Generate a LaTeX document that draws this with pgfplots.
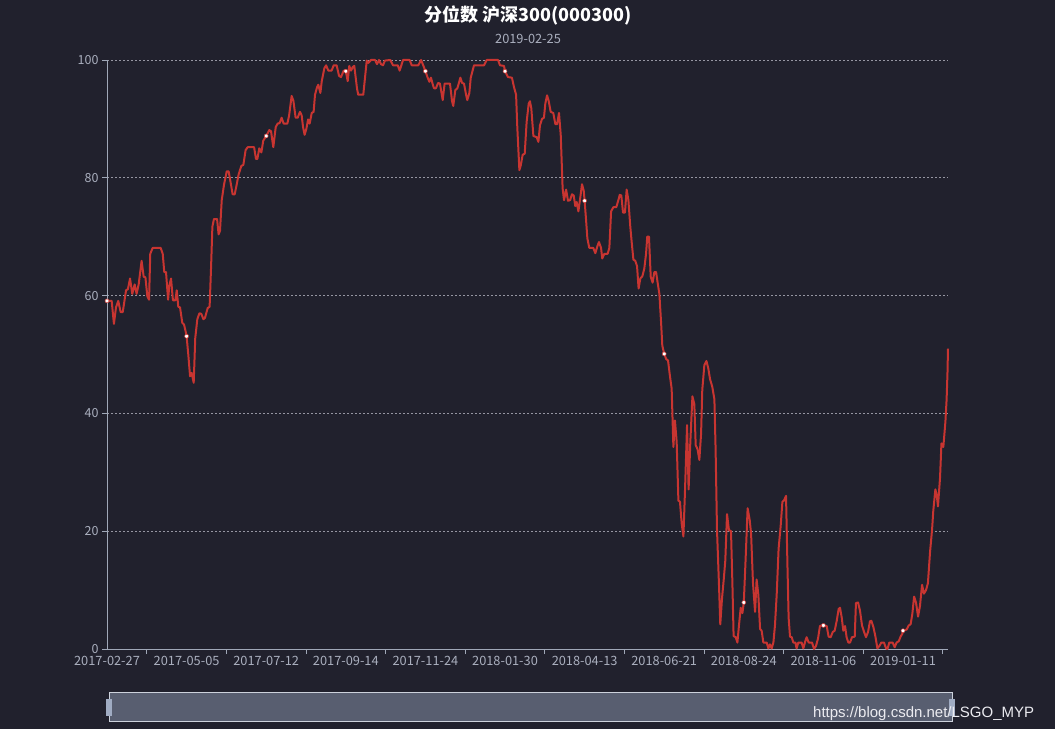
\documentclass[border=0pt]{standalone}
\usepackage{fontspec}
\setmainfont{Noto Sans CJK SC}
\newfontfamily\wm{Liberation Sans}
\usepackage{pgfplots}
\pgfplotsset{compat=1.18}
\definecolor{bg}{RGB}{33,33,45}
\definecolor{linered}{RGB}{200,53,49}
\definecolor{axcol}{RGB}{160,168,184}
\definecolor{labcol}{RGB}{170,175,190}
\definecolor{gridcol}{RGB}{150,150,162}
\definecolor{slider}{RGB}{88,94,112}
\definecolor{sliderb}{RGB}{205,210,220}
\definecolor{handle}{RGB}{160,172,195}
\begin{document}
\begin{tikzpicture}[x=1pt,y=1pt]
\fill[bg] (0,0) rectangle (1055,729);
\node[text=white, font=\fontsize{18}{21}\selectfont\bfseries] at (528,714) {分位数 沪深300(000300)};
\node[text=labcol, font=\fontsize{12.8}{15}\selectfont] at (528,690) {2019-02-25};
\begin{axis}[
  at={(107pt,80pt)}, anchor=south west, scale only axis,
  width=841pt, height=589pt,
  xmin=0, xmax=486, ymin=0, ymax=100, clip=false,
  axis x line*=bottom, axis y line*=left,
  axis line style={axcol, line width=0.8pt, -},
  tick align=outside, major tick length=5pt,
  tick style={axcol, line width=0.8pt},
  ytick={0,20,...,100},
  ymajorgrids,
  grid style={gridcol, dash pattern=on 2pt off 2pt, line width=0.6pt},
  /pgf/number format/assume math mode=true,
  yticklabel style={font=\fontsize{12.5}{14}\selectfont, text=labcol},
  xtick={23,69,...,483},
  xticklabels={},
  extra x ticks={0,46,92,138,184,230,276,322,368,414,460},
  extra x tick labels={2017-02-27,2017-05-05,2017-07-12,2017-09-14,2017-11-24,2018-01-30,2018-04-13,2018-06-21,2018-08-24,2018-11-06,2019-01-11},
  extra x tick style={major tick length=0pt, tick label style={font=\fontsize{12.8}{15}\selectfont, text=labcol, yshift=-4pt}},
]
\addplot[color=linered, line width=2pt, line join=round, no marks] coordinates {
(0,59.1)(2.7,59.1)(4.0,55.2)(5.2,58.0)(6.5,59.1)(7.9,57.2)(9.1,57.2)(11.0,60.9)(12.1,61.1)(13.3,62.9)(14.6,60.3)(16.0,61.9)(17.1,60.3)(18.3,61.9)(20.0,65.9)(21.2,63.2)(22.2,63.1)(23.3,59.9)(24.3,59.3)(25.0,67.1)(26.4,68.1)(31.0,68.1)(32.2,67.1)(33.1,64.0)(34.1,64.0)(35.3,59.3)(36.0,61.7)(37.0,62.9)(38.1,59.2)(39.5,59.2)(40.3,60.9)(41.2,58.1)(42.2,58.0)(43.5,55.4)(44.5,55.1)(45.3,54.1)(46.0,53.1)(47.0,49.9)(48.0,46.3)(48.9,46.9)(50.1,45.2)(51.0,52.8)(52.2,56.0)(53.4,57.0)(54.5,56.9)(55.7,56.0)(56.6,56.2)(58.2,57.9)(59.3,58.1)(60.1,64.5)(60.9,71.7)(61.8,73.0)(63.6,73.0)(64.5,70.4)(65.3,71.0)(66.3,76.2)(67.6,78.8)(69.2,81.1)(70.3,81.1)(71.5,79.1)(72.6,77.2)(73.8,77.2)(74.9,78.8)(76.1,80.6)(77.6,82.0)(78.8,82.2)(80.1,84.7)(81.3,85.2)(85.0,85.2)(86.1,83.2)(86.9,83.2)(88.0,85.0)(89.2,84.3)(90.3,86.3)(92.0,87.1)
(93.8,88.1)(94.8,87.9)(96.1,85.2)(97.5,88.6)(98.6,89.2)(99.8,89.3)(100.9,90.2)(102.1,89.2)(104.2,89.2)(105.2,90.5)(106.7,93.9)(107.7,93.1)(109.0,90.2)(110.2,90.2)(111.5,91.2)(112.5,90.6)(113.3,88.6)(114.2,87.3)(115.2,88.3)(116.2,89.9)(117.1,89.2)(118.3,91.0)(119.4,91.2)(120.2,94.1)(121.4,95.4)(122.1,95.8)(123.3,94.4)(124.1,96.4)(125.6,98.6)(126.6,99.1)(127.9,98.2)(129.8,98.2)(131.0,99.1)(132.7,99.1)(134.1,97.3)(135.2,97.1)(136.8,98.2)(138.0,98.1)(139.1,96.4)(140.0,99.0)(141.0,98.2)(142.0,98.8)(142.9,99.0)(144.5,95.1)(145.2,94.1)(148.1,94.1)(149.1,97.0)(150.1,99.9)(151.0,99.5)(152.6,100)(154.9,100)(156.0,99.3)(157.2,100)(158.3,99.3)(159.5,99.1)(160.6,99.9)(163.7,100)(165.3,99.1)(168.0,99.1)(169.1,98.2)(171.1,100)(174.9,100)(176.1,99.1)(179.9,99.1)(181.5,100)(183.0,98.9)(184.0,98.1)(185.3,97.0)(186.3,96.3)(187.2,97.0)(188.4,95.7)
(189.0,95.2)(190.1,95.2)(191.3,96.1)(192.4,96.0)(194.0,93.2)(195.1,96.0)(198.2,96.0)(199.4,93.0)(200.1,92.2)(201.3,94.9)(202.5,95.2)(204.2,97.0)(205.2,96.1)(206.3,96.0)(207.5,94.1)(208.2,93.2)(209.4,94.4)(210.2,97.0)(212.1,99.1)(217.9,99.1)(219.4,100)(226.0,100)(227.1,99.1)(229.4,99.0)(230.0,98.1)(231.7,97.1)(234.0,97.0)(235.2,95.4)(236.4,94.1)(237.1,88.6)(238.3,81.3)(239.1,82.1)(240.2,83.9)(241.4,84.1)(242.5,89.5)(243.7,92.6)(244.4,93.0)(245.2,91.8)(246.4,87.1)(248.3,86.9)(249.3,86.1)(250.2,88.9)(251.4,90.0)(252.5,90.2)(253.3,92.6)(254.3,94.0)(255.2,93.1)(256.4,91.2)(257.9,91.0)(259.1,89.1)(260.1,89.1)(261.2,91.0)(262.2,87.3)(263.3,78.2)(264.1,76.2)(265.3,78.0)(266.4,76.1)(267.6,76.2)(268.7,77.2)(269.7,77.0)(270.6,75.2)(271.4,75.9)(272.4,74.3)(273.3,76.2)(274.5,78.9)(275.5,77.8)(276.0,76.1)(276.8,73.0)(277.6,69.7)(278.7,68.1)(281.0,68.1)(282.2,67.2)(283.4,68.4)
(284.3,69.1)(285.5,68.1)(286.2,66.3)(287.4,67.1)(289.3,67.1)(290.3,68.1)(291.3,74.3)(292.6,75.0)(294.3,75.0)(295.5,76.2)(296.3,77.1)(297.2,77.0)(298.2,74.1)(299.3,74.1)(300.3,78.0)(301.3,76.2)(302.4,71.7)(303.2,69.1)(304.2,66.1)(305.3,65.9)(306.3,65.0)(307.2,61.2)(308.2,62.9)(309.4,63.3)(310.5,64.6)(311.5,67.1)(312.2,70.0)(313.2,70.0)(314.2,63.2)(315.3,62.2)(316.3,64.0)(317.3,64.0)(318.2,62.2)(319.2,60.3)(320.2,55.4)(320.9,51.5)(322.0,50.1)(323.2,49.2)(324.2,49.0)(325.2,46.6)(326.3,44.2)(327.3,34.3)(328.2,38.8)(329.2,35.2)(330.2,25.2)(331.1,25.0)(332.1,21.3)(333.1,19.1)(334.0,26.8)(335.2,38.0)(336.1,27.1)(337.1,35.2)(338.3,42.9)(339.4,41.6)(340.2,34.6)(341.3,33.9)(342.3,32.1)(343.3,36.5)(344.0,44.0)(345.2,48.2)(346.4,48.9)(347.5,47.6)(348.5,45.8)(349.8,44.5)(351.0,42.4)(351.7,33.9)(352.5,20.3)(353.7,10.5)(354.4,4.2)(355.4,8.6)(356.4,11.8)(357.3,15.0)(358.3,22.9)(359.4,20.2)(360.6,20.0)(361.4,11.2)(362.1,2.2)(363.3,2.0)(364.3,1.1)(365.2,4.0)(366.2,7.0)(367.2,6.1)(368.0,7.9)(369.1,15.7)(370.2,23.9)(371.4,21.9)(372.2,19.6)(373.3,11.2)(374.5,6.3)(375.4,11.8)(376.4,9.2)(377.4,3.4)(378.3,3.1)
(379.3,1.1)(381.2,1.1)(382.2,0.1)(383.1,0.8)(384.1,0.1)(385.1,1.1)(386.0,4.0)(387.0,9.2)(388.1,17.0)(389.3,20.9)(390.3,25.0)(391.2,25.2)(392.4,26.0)(393.2,14.4)(393.9,5.3)(394.7,2.1)(395.7,2.0)(396.6,1.1)(397.8,1.1)(398.5,0.1)(399.5,1.1)(401.4,1.1)(402.4,0.1)(403.6,1.4)(404.3,2.0)(405.5,1.1)(407.4,1.1)(408.6,0)(409.7,0.5)(410.9,1.8)(412.0,3.9)(413.0,4.0)(414.0,4.0)(415.9,3.9)(417.0,2.1)(418.2,2.0)(419.4,2.9)(420.5,3.1)(421.7,4.8)(422.8,6.8)(423.6,7.0)(424.6,5.3)(425.5,3.1)(426.5,3.9)(427.4,2.0)(428.4,1.1)(429.4,1.1)(430.5,2.0)(432.1,2.1)(432.8,7.8)(434.0,7.9)(435.1,6.6)(436.3,4.0)(437.5,2.9)(438.6,2.0)(439.8,2.9)(440.9,4.7)(441.7,4.8)(442.9,3.7)(444.0,2.2)(445.2,0.1)(446.3,0.5)(447.5,1.1)(449.0,1.1)(450.2,0.1)(451.0,0)(452.1,1.1)(454.0,1.1)(455.2,0.3)(456.3,1.1)(457.5,1.3)(458.6,2.1)(459.6,2.6)(460.0,3.1)(462.1,3.3)(463.3,4.0)(464.4,4.2)(465.4,6.0)(466.4,8.9)(467.5,7.9)(468.7,5.5)(469.8,7.3)(471.0,10.9)(472.1,9.4)(473.3,10.0)(474.4,11.2)(475.6,16.4)(476.8,20.3)(477.5,23.5)(478.7,27.1)(479.5,26.1)(480.2,24.2)(481.4,29.1)(482.2,34.9)(483.3,34.3)(484.5,38.6)(485.2,42.4)(485.7,46.9)(486,51.0)
};
\addplot[only marks, mark=*, mark size=2pt, mark options={fill=white, draw=linered, line width=0.5pt}] coordinates {
(0,59.1)(46,53.1)(92,87.1)(138,98.1)(184,98.1)(230,98.1)(276,76.1)(322,50.1)(368,7.9)(414,4.0)(460,3.1)
};
\end{axis}
\draw[fill=slider, draw=sliderb, line width=1pt] (109,8) rectangle (952,37);
\fill[handle] (106,13) rectangle (112,30);
\fill[handle] (949,13) rectangle (955,30);
\node[anchor=base west, text={rgb,255:red,235;green,235;blue,240}, font=\wm\fontsize{15}{18}\selectfont, inner sep=0pt] at (813,12) {https://blog.csdn.net/LSGO\_MYP};
\pgfresetboundingbox
\path (0,0) rectangle (1055,729);
\end{tikzpicture}
\end{document}
